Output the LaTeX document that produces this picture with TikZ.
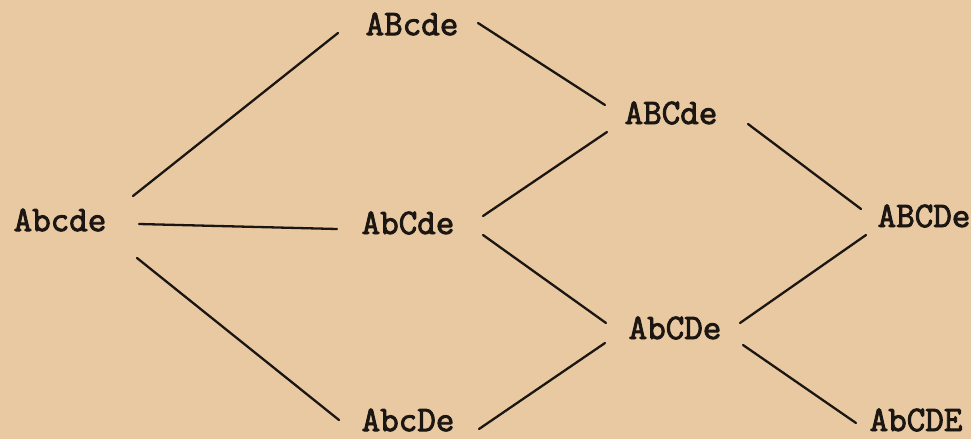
\documentclass[tikz,border=0pt]{standalone}
\usepackage{fontspec}
\setmonofont{Latin Modern Mono}[BoldFont={Latin Modern Mono},BoldFeatures={FakeBold=2.5}]
\definecolor{paper}{RGB}{232,201,162}
\definecolor{ink}{RGB}{28,22,18}
\begin{document}
\begin{tikzpicture}[x=1pt,y=-1pt,
  lbl/.style={inner sep=0pt,text=ink,font=\ttfamily\bfseries\fontsize{36}{36}\selectfont},
  edge/.style={draw=ink,line width=2.3pt,line cap=round}]
\fill[paper] (0,0) rectangle (971,439);
\useasboundingbox (0,0) rectangle (971,439);
\node[lbl] (a) at (60,220) {Abcde};
\node[lbl] (b) at (412,24) {ABcde};
\node[lbl] (c) at (408,223) {AbCde};
\node[lbl] (d) at (408,420) {AbcDe};
\node[lbl] (e) at (671,113) {ABCde};
\node[lbl] (f) at (675,328) {AbCDe};
\node[lbl] (g) at (924,216) {ABCDe};
\node[lbl] (h) at (916,420) {AbCDE};
\draw[edge] ([shift={(73,-24)}]a.center) -- ([shift={(-74,9)}]b.center);
\draw[edge] ([shift={(79,4)}]a.center) -- ([shift={(-71,6)}]c.center);
\draw[edge] ([shift={(77,38)}]a.center) -- ([shift={(-69,0)}]d.center);
\draw[edge] ([shift={(66,-1)}]b.center) -- ([shift={(-66,-8)}]e.center);
\draw[edge] ([shift={(75,-7)}]c.center) -- ([shift={(-64,19)}]e.center);
\draw[edge] ([shift={(75,12)}]c.center) -- ([shift={(-69,-5)}]f.center);
\draw[edge] ([shift={(71,9)}]d.center) -- ([shift={(-70,15)}]f.center);
\draw[edge] ([shift={(77,11)}]e.center) -- ([shift={(-63,-7)}]g.center);
\draw[edge] ([shift={(65,-5)}]f.center) -- ([shift={(-58,19)}]g.center);
\draw[edge] ([shift={(68,17)}]f.center) -- ([shift={(-60,3)}]h.center);
\end{tikzpicture}
\end{document}
